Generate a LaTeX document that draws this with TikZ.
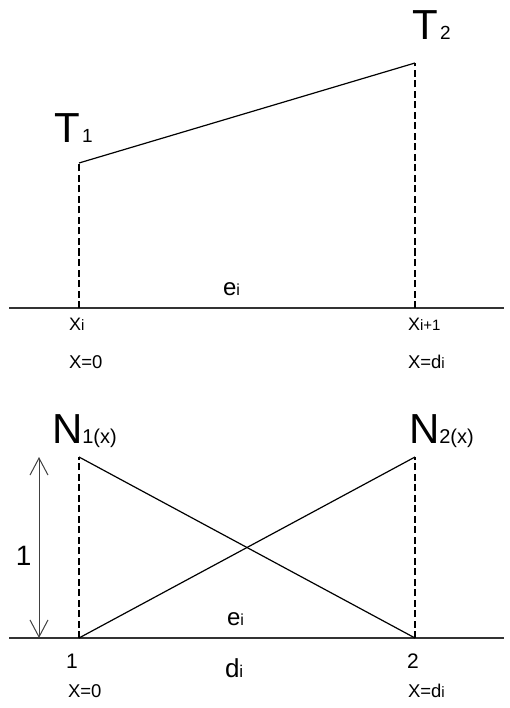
\documentclass[tikz,border=0pt]{standalone}
\usepackage{fontspec}
\setmainfont{Liberation Sans}
\usetikzlibrary{arrows.meta}
\newcommand\fsz[1]{\fontsize{#1}{#1}\selectfont}
\tikzset{
  lbl/.style={anchor=base west, inner sep=0pt, outer sep=0pt},
  axisline/.style={line width=1.5pt, draw=black!80},
  solidline/.style={line width=1.2pt},
  dashline/.style={line width=1.1pt, dash pattern=on 7pt off 3.5pt},
  dimarrow/.style={line width=1pt, draw=black!75, {Straight Barb[length=17pt,width=18pt]}-{Straight Barb[length=17pt,width=18pt]}}
}
\begin{document}
\begin{tikzpicture}[x=1pt,y=-1pt]
\useasboundingbox (0,0) rectangle (509,708);
% ---------- top diagram ----------
\coordinate (L1) at (9,308);
\coordinate (R1) at (504,308);
\coordinate (a1) at (79,308);
\coordinate (b1) at (79,163);
\coordinate (a2) at (415,308);
\coordinate (b2) at (415,63);
\draw[axisline] (L1) -- (R1);
\draw[dashline] (a1) -- (b1);
\draw[dashline] (a2) -- (b2);
\draw[solidline] (b1) -- (b2);
\node[lbl] (T1) at (54,143) {\fsz{42}T\kern2.5pt{\fsz{19}1}};
\node[lbl] (T2) at (412,40) {\fsz{42}T\kern2.5pt{\fsz{19}2}};
\node[lbl] (e1) at (223,295) {\fsz{24}e{\fsz{16}i}};
\node[lbl] (xi) at (69,330) {\fsz{18}X{\fsz{15}i}};
\node[lbl] (xi1) at (408,330) {\fsz{18}X{\fsz{15}i+1}};
\node[lbl] (x0a) at (69,368) {\fsz{18.5}X=0};
\node[lbl] (xda) at (408,368) {\fsz{18.5}X=d{\fsz{15}i}};
% ---------- bottom diagram ----------
\coordinate (L2) at (9,638);
\coordinate (R2) at (504,638);
\coordinate (c1) at (79,638);
\coordinate (d1) at (79,457);
\coordinate (c2) at (415,638);
\coordinate (d2) at (415,457);
\coordinate (u1) at (39,457);
\coordinate (u2) at (39,638);
\draw[axisline] (L2) -- (R2);
\draw[dashline] (c1) -- (d1);
\draw[dashline] (c2) -- (d2);
\draw[solidline] (d1) -- (c2);
\draw[solidline] (c1) -- (d2);
\draw[dimarrow] (u1) -- (u2);
\node[lbl] (N1) at (52,443) {\fsz{42}N{\fsz{20}1(x)}};
\node[lbl] (N2) at (409,443) {\fsz{42}N{\fsz{20}2(x)}};
\node[lbl] (one) at (16,565) {\fsz{28}1};
\node[lbl] (e2) at (227,625) {\fsz{24}e{\fsz{16}i}};
\node[lbl] (n1) at (66,668) {\fsz{21}1};
\node[lbl] (di) at (225,677) {\fsz{26}d{\fsz{17}i}};
\node[lbl] (n2) at (407,668) {\fsz{21}2};
\node[lbl] (x0b) at (68,697) {\fsz{18.5}X=0};
\node[lbl] (xdb) at (408,697) {\fsz{18.5}X=d{\fsz{15}i}};
\end{tikzpicture}
\end{document}
